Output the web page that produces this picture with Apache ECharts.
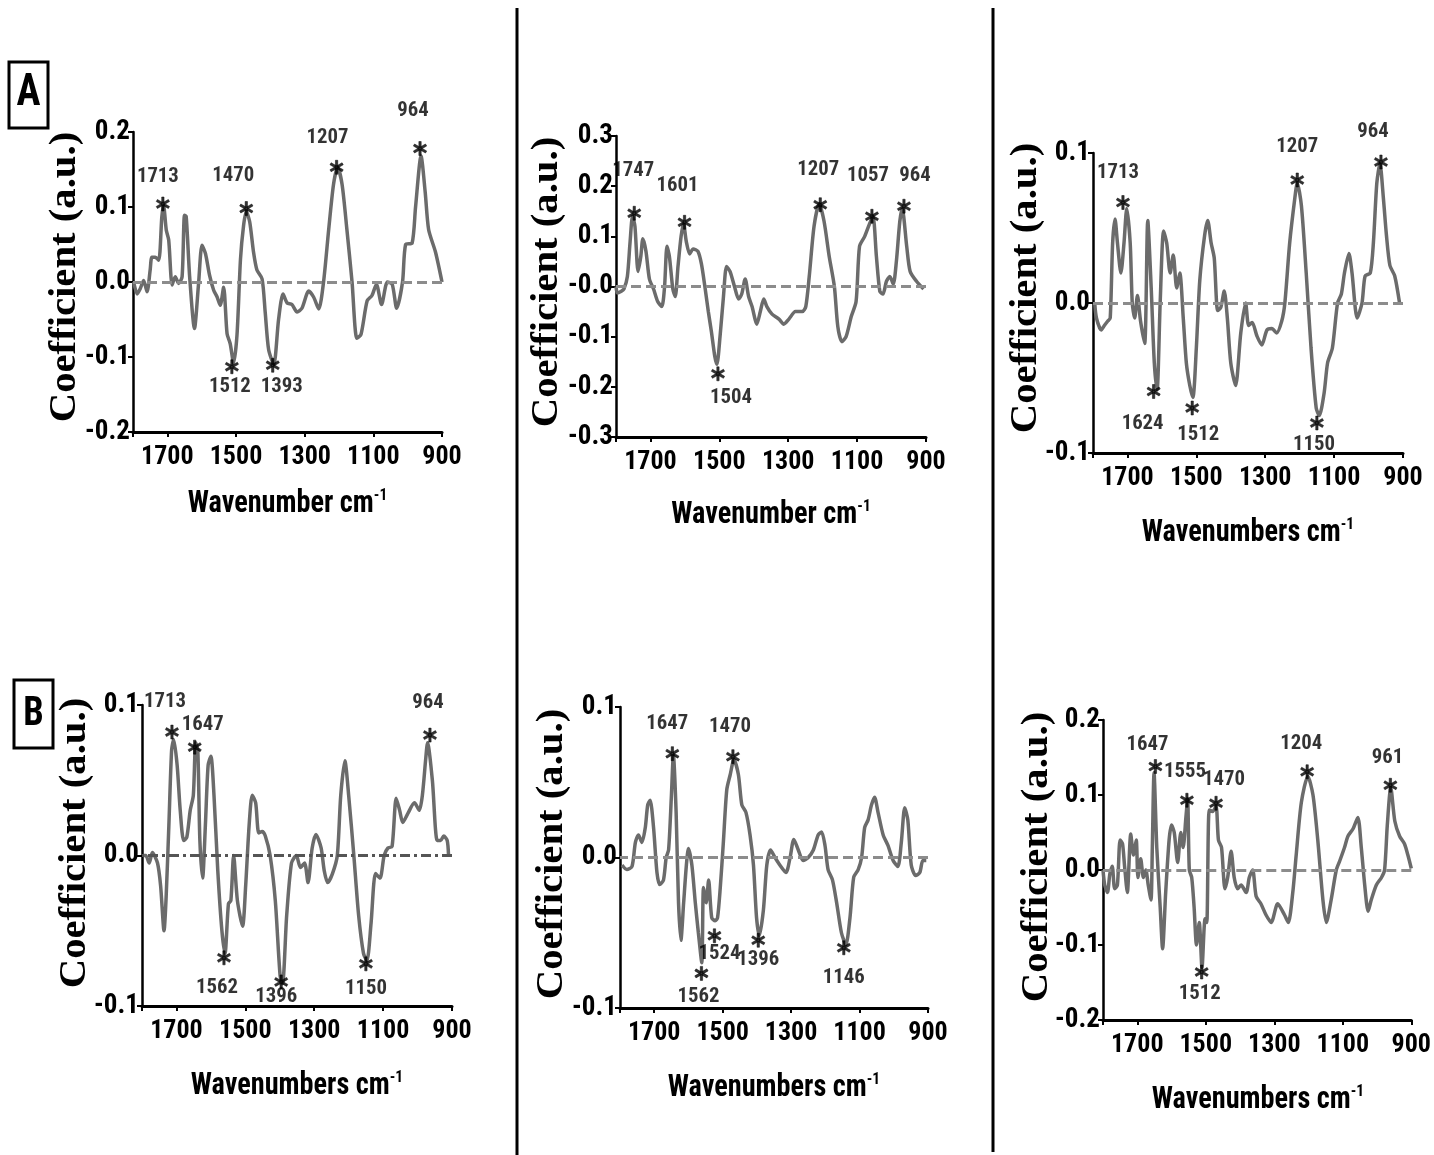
<!DOCTYPE html>
<html>
<head>
<meta charset="utf-8">
<script src="https://cdn.jsdelivr.net/npm/echarts@6/dist/echarts.min.js"></script>
<style>
  html, body { margin: 0; padding: 0; background: #fff; }
  #chart { width: 1434px; height: 1155px; }
</style>
</head>
<body>
<div id="chart"></div>
<script>
// x ticks shared by all six panels
var xTicks = [1700, 1500, 1300, 1100, 900];

var yTicksA1 = ['-0.2', '-0.1', '0.0', '0.1', '0.2'];
var yTicksA2 = ['-0.3', '-0.2', '-0.1', '-0.0', '0.1', '0.2', '0.3'];
var yTicksA3 = ['-0.1', '0.0', '0.1'];
var yTicksB1 = ['-0.1', '0.0', '0.1'];
var yTicksB2 = ['-0.1', '0.0', '0.1'];
var yTicksB3 = ['-0.2', '-0.1', '0.0', '0.1', '0.2'];

// spectra: [wavenumber, coefficient]
var specA1 = [[1798,0.0],[1788,-0.016],[1779,-0.009],[1769,0.002],[1759,-0.013],[1750,0.016],[1745,0.033],[1735,0.033],[1725,0.029],[1716,0.087],[1711,0.102],[1703,0.069],[1696,0.056],[1686,-0.004],[1677,0.007],[1667,-0.002],[1657,0.007],[1650,0.089],[1645,0.087],[1635,0.007],[1621,-0.062],[1609,-0.002],[1599,0.049],[1589,0.038],[1577,0.009],[1565,-0.011],[1555,-0.020],[1546,-0.031],[1536,-0.007],[1526,-0.069],[1517,-0.082],[1507,-0.108],[1497,-0.07],[1487,0.03],[1478,0.075],[1470,0.094],[1460,0.08],[1449,0.04],[1439,0.016],[1424,0.004],[1415,-0.04],[1405,-0.09],[1390,-0.11],[1376,-0.05],[1363,-0.016],[1351,-0.028],[1337,-0.03],[1322,-0.04],[1308,-0.035],[1288,-0.012],[1274,-0.02],[1259,-0.036],[1245,0.0],[1230,0.07],[1216,0.13],[1204,0.153],[1191,0.13],[1177,0.07],[1162,0.0],[1148,-0.075],[1136,-0.07],[1118,-0.025],[1104,-0.018],[1091,-0.003],[1076,-0.03],[1059,0.0],[1045,-0.003],[1032,-0.035],[1015,0.0],[1006,0.05],[987,0.052],[977,0.1],[961,0.168],[949,0.12],[939,0.07],[919,0.04],[900,0.0]];
var specA2 = [[1800,0.0],[1796,-0.013],[1786,-0.01],[1777,-0.005],[1767,0.02],[1759,0.09],[1752,0.14],[1745,0.12],[1736,0.03],[1728,0.06],[1722,0.095],[1713,0.07],[1703,0.015],[1691,-0.005],[1679,-0.03],[1667,-0.04],[1659,0.0],[1652,0.08],[1645,0.06],[1635,-0.005],[1628,-0.02],[1620,0.04],[1611,0.10],[1604,0.125],[1596,0.09],[1586,0.065],[1576,0.075],[1562,0.07],[1552,0.045],[1542,0.0],[1532,-0.05],[1523,-0.09],[1513,-0.14],[1507,-0.155],[1498,-0.1],[1488,-0.02],[1479,0.04],[1469,0.03],[1456,0.0],[1444,-0.025],[1435,-0.015],[1425,0.015],[1415,-0.02],[1405,-0.04],[1391,-0.075],[1381,-0.05],[1371,-0.025],[1362,-0.04],[1347,-0.055],[1327,-0.065],[1313,-0.075],[1298,-0.065],[1279,-0.05],[1259,-0.05],[1249,-0.04],[1239,0.02],[1225,0.12],[1210,0.165],[1196,0.13],[1181,0.06],[1166,0.0],[1156,-0.08],[1144,-0.11],[1132,-0.1],[1117,-0.06],[1103,-0.03],[1093,0.08],[1078,0.1],[1064,0.125],[1054,0.14],[1044,0.06],[1034,-0.01],[1025,-0.015],[1015,0.01],[1005,0.02],[995,0.005],[986,0.05],[976,0.13],[969,0.155],[956,0.08],[946,0.03],[927,0.01],[907,-0.005]];
var specA3 = [[1795,0.0],[1790,-0.01],[1776,-0.018],[1767,-0.015],[1757,-0.012],[1750,-0.01],[1743,0.04],[1736,0.056],[1729,0.04],[1719,0.02],[1710,0.04],[1702,0.063],[1692,0.04],[1686,0.0],[1679,-0.01],[1671,0.005],[1662,-0.012],[1650,-0.027],[1641,0.055],[1631,0.01],[1622,-0.04],[1614,-0.058],[1605,0.0],[1595,0.048],[1586,0.04],[1576,0.02],[1567,0.032],[1557,0.01],[1548,0.02],[1538,-0.01],[1529,-0.04],[1519,-0.055],[1510,-0.063],[1500,-0.03],[1490,0.015],[1476,0.045],[1467,0.055],[1457,0.04],[1448,0.03],[1438,-0.005],[1429,-0.003],[1419,0.008],[1410,-0.01],[1400,-0.04],[1386,-0.055],[1371,-0.02],[1357,0.0],[1348,-0.015],[1338,-0.013],[1324,-0.022],[1310,-0.028],[1295,-0.018],[1281,-0.017],[1267,-0.02],[1252,-0.012],[1243,0.0],[1229,0.04],[1214,0.07],[1207,0.08],[1195,0.065],[1181,0.02],[1167,-0.03],[1152,-0.07],[1143,-0.075],[1129,-0.06],[1119,-0.04],[1105,-0.03],[1090,0.0],[1079,0.006],[1070,0.02],[1057,0.033],[1048,0.02],[1033,-0.01],[1019,0.0],[1010,0.018],[995,0.02],[986,0.04],[976,0.08],[967,0.093],[957,0.07],[948,0.045],[938,0.025],[924,0.018],[910,0.0]];
var specB1 = [[1795,0.0],[1789,0.0],[1779,-0.005],[1770,0.002],[1755,-0.005],[1746,-0.02],[1736,-0.05],[1730,-0.028],[1722,0.02],[1714,0.07],[1708,0.077],[1698,0.06],[1689,0.03],[1679,0.01],[1670,0.012],[1660,0.03],[1651,0.04],[1644,0.075],[1638,0.07],[1632,0.01],[1624,-0.015],[1616,0.02],[1608,0.06],[1600,0.066],[1591,0.04],[1580,-0.01],[1568,-0.05],[1559,-0.065],[1549,-0.032],[1542,-0.03],[1534,0.0],[1523,-0.03],[1508,-0.047],[1499,-0.02],[1489,0.02],[1480,0.04],[1470,0.035],[1461,0.015],[1451,0.016],[1442,0.013],[1428,0.0],[1413,-0.03],[1399,-0.08],[1392,-0.085],[1380,-0.04],[1366,-0.005],[1352,0.0],[1340,-0.008],[1328,-0.005],[1318,-0.018],[1306,0.005],[1295,0.014],[1280,0.005],[1271,-0.01],[1261,-0.018],[1247,-0.012],[1233,0.0],[1223,0.04],[1211,0.063],[1200,0.04],[1185,0.0],[1171,-0.04],[1157,-0.065],[1147,-0.07],[1135,-0.045],[1122,-0.012],[1109,-0.015],[1097,0.0],[1086,0.005],[1074,0.006],[1062,0.038],[1052,0.03],[1043,0.022],[1028,0.028],[1009,0.035],[995,0.03],[986,0.04],[976,0.065],[971,0.075],[957,0.05],[943,0.01],[933,0.01],[924,0.013],[914,0.01],[910,0.0]];
var specB2 = [[1794,-0.005],[1780,-0.008],[1765,-0.006],[1755,0.01],[1746,0.015],[1736,0.01],[1726,0.02],[1719,0.035],[1712,0.038],[1702,0.02],[1692,-0.01],[1684,-0.018],[1673,-0.015],[1665,0.0],[1658,0.005],[1650,0.04],[1644,0.068],[1636,0.03],[1629,-0.03],[1622,-0.055],[1614,-0.03],[1606,-0.005],[1600,0.006],[1590,-0.005],[1580,-0.03],[1571,-0.05],[1561,-0.07],[1556,-0.02],[1548,-0.03],[1541,-0.015],[1532,-0.04],[1522,-0.042],[1515,-0.04],[1507,-0.02],[1498,0.01],[1488,0.045],[1478,0.055],[1467,0.065],[1454,0.055],[1444,0.035],[1432,0.03],[1420,0.015],[1410,-0.005],[1401,-0.04],[1393,-0.052],[1381,-0.035],[1371,-0.005],[1360,0.005],[1347,0.0],[1333,-0.005],[1315,-0.01],[1303,0.0],[1292,0.012],[1279,0.005],[1265,-0.002],[1250,0.0],[1235,0.005],[1221,0.015],[1211,0.017],[1201,0.008],[1192,-0.008],[1179,-0.015],[1167,-0.03],[1153,-0.05],[1140,-0.058],[1128,-0.04],[1117,-0.013],[1104,-0.008],[1094,0.0],[1085,0.02],[1075,0.025],[1065,0.035],[1056,0.04],[1046,0.03],[1031,0.015],[1017,0.008],[1002,-0.002],[988,-0.006],[978,0.01],[968,0.033],[959,0.025],[949,-0.005],[936,-0.012],[924,-0.01],[915,-0.002],[905,-0.002]];
var specB3 = [[1800,0.0],[1795,-0.02],[1787,-0.03],[1780,-0.005],[1773,0.005],[1766,-0.025],[1758,-0.02],[1750,0.04],[1743,0.035],[1737,0.005],[1729,-0.03],[1719,0.048],[1711,0.02],[1703,0.04],[1698,-0.01],[1690,0.015],[1682,-0.01],[1675,0.0],[1668,-0.02],[1660,-0.04],[1656,0.03],[1651,0.13],[1643,0.03],[1633,-0.05],[1626,-0.105],[1617,-0.03],[1607,0.04],[1600,0.06],[1592,0.05],[1582,0.01],[1573,0.05],[1566,0.03],[1558,0.07],[1553,0.095],[1548,0.0],[1541,-0.01],[1534,-0.05],[1527,-0.1],[1519,-0.07],[1511,-0.13],[1502,-0.065],[1497,-0.07],[1490,0.08],[1480,0.078],[1470,0.085],[1463,0.04],[1454,0.03],[1444,-0.025],[1436,-0.01],[1426,0.025],[1417,-0.01],[1407,-0.025],[1397,-0.02],[1382,-0.03],[1373,-0.01],[1363,0.0],[1353,-0.035],[1339,-0.045],[1324,-0.06],[1309,-0.07],[1290,-0.045],[1270,-0.06],[1259,-0.07],[1246,-0.03],[1236,0.02],[1221,0.09],[1202,0.125],[1187,0.1],[1173,0.04],[1158,-0.04],[1148,-0.07],[1134,-0.04],[1119,0.0],[1109,0.012],[1095,0.03],[1085,0.045],[1070,0.055],[1056,0.07],[1046,0.03],[1036,-0.02],[1026,-0.055],[1017,-0.04],[1002,-0.02],[987,-0.01],[978,0.0],[970,0.06],[960,0.11],[948,0.065],[934,0.045],[920,0.035],[910,0.02],[900,0.002]];

// marked peaks: [wavenumber, coefficient]
var peaksA1 = [[1713,0.104],[1512,-0.113],[1470,0.098],[1393,-0.111],[1207,0.153],[964,0.178]];
var peaksA2 = [[1747,0.146],[1601,0.128],[1504,-0.174],[1207,0.163],[1057,0.14],[964,0.16]];
var peaksA3 = [[1713,0.067],[1624,-0.059],[1512,-0.07],[1207,0.082],[1150,-0.08],[964,0.094]];
var peaksB1 = [[1713,0.082],[1647,0.072],[1562,-0.068],[1396,-0.084],[1150,-0.072],[964,0.08]];
var peaksB2 = [[1647,0.069],[1562,-0.077],[1524,-0.052],[1470,0.067],[1396,-0.055],[1146,-0.06]];
var peaksB3 = [[1647,0.138],[1555,0.093],[1512,-0.136],[1470,0.089],[1204,0.131],[961,0.113]];

// where each peak number sits relative to its asterisk (px)
var labelShift = {
    A1: [[-5,-27],[-2,20],[-13,-33],[9,22],[-9,-29],[-7,-38]],
    A2: [[-1,-42],[-7,-36],[13,24],[-2,-35],[-4,-40],[11,-30]],
    A3: [[-5,-30],[-11,32],[6,27],[0,-33],[-3,22],[-8,-30]],
    B1: [[-7,-30],[8,-22],[-7,30],[-5,15],[0,25],[-2,-32]],
    B2: [[-5,-30],[-3,23],[5,18],[-3,-30],[0,20],[0,30]],
    B3: [[-8,-22],[-2,-28],[-2,22],[8,-23],[-6,-28],[-3,-27]]
};

// pick a (preferably condensed) bold sans that is really installed
var ctx = document.createElement('canvas').getContext('2d');
function textW(font, s) { ctx.font = font; return ctx.measureText(s).width; }
function installed(name) {
    var s = '1700 Wavenumber cm';
    return textW('bold 40px "' + name + '", monospace', s) !== textW('bold 40px monospace', s);
}
var FAM = ['Roboto Condensed', 'Liberation Sans Narrow', 'Arial Narrow', 'Liberation Sans', 'Arial']
    .filter(installed)[0] || 'sans-serif';
var SANS = '"' + FAM + '", sans-serif';
var SERIF = '"Liberation Serif", "DejaVu Serif", serif';
function fitSize(s, width, maxSize) {
    return Math.min(maxSize, 40 * width / textW('bold 40px ' + SANS, s));
}
var xTickSize = fitSize('1700', 54, 26);
var yTickSize = fitSize('0.0', 38, 27);
var peakSize = fitSize('1713', 42, 21);
var titleScale = Math.min(1, 186 / textW('bold 31px ' + SANS, 'Wavenumber cm'));

var STAR = 'path://M4.696,-3.866L5.696,-2.134L-4.696,3.866L-5.696,2.134Z' +
           'M5.696,2.134L4.696,3.866L-5.696,-2.134L-4.696,-3.866Z' +
           'M-1,-6L1,-6L1,6L-1,6Z';

var panels = [
    {id: 'A1', left: 133,  top: 132, width: 309, height: 300, yMin: -0.2, yMax: 0.2, yTicks: yTicksA1, spec: specA1, peaks: peaksA1, xTitle: 'Wavenumber cm',  titleDy: 72, coef: [65, 277]},
    {id: 'A2', left: 616,  top: 136, width: 310, height: 301, yMin: -0.3, yMax: 0.3, yTicks: yTicksA2, spec: specA2, peaks: peaksA2, xTitle: 'Wavenumber cm',  titleDy: 78, coef: [547, 282]},
    {id: 'A3', left: 1093, top: 153, width: 310, height: 300, yMin: -0.1, yMax: 0.1, yTicks: yTicksA3, spec: specA3, peaks: peaksA3, xTitle: 'Wavenumbers cm', titleDy: 80, coef: [1026, 288]},
    {id: 'B1', left: 142,  top: 705, width: 310, height: 301, yMin: -0.1, yMax: 0.1, yTicks: yTicksB1, spec: specB1, peaks: peaksB1, xTitle: 'Wavenumbers cm', titleDy: 80, coef: [75, 843], dashDot: true},
    {id: 'B2', left: 620,  top: 707, width: 308, height: 301, yMin: -0.1, yMax: 0.1, yTicks: yTicksB2, spec: specB2, peaks: peaksB2, xTitle: 'Wavenumbers cm', titleDy: 80, coef: [552, 854]},
    {id: 'B3', left: 1103, top: 720, width: 310, height: 300, yMin: -0.2, yMax: 0.2, yTicks: yTicksB3, spec: specB3, peaks: peaksB3, xTitle: 'Wavenumbers cm', titleDy: 80, coef: [1037, 857]}
];

var grids = [], xAxes = [], yAxes = [], series = [];
var graphics = [];

panels.forEach(function (p, i) {
    grids.push({left: p.left, top: p.top, width: p.width, height: p.height, containLabel: false});

    xAxes.push({
        type: 'value', gridIndex: i, min: 900, max: 1800, interval: 200, inverse: true,
        splitLine: {show: false},
        axisLine: {show: true, onZero: false, lineStyle: {color: '#000', width: 3}},
        axisTick: {show: true, length: 5, lineStyle: {color: '#000', width: 2}},
        axisLabel: {
            margin: 12, color: '#000', fontSize: xTickSize, fontWeight: 'bold', fontFamily: SANS,
            formatter: function (v) { return xTicks.indexOf(v) >= 0 ? String(v) : ''; }
        }
    });

    yAxes.push({
        type: 'value', gridIndex: i, min: p.yMin, max: p.yMax, interval: 0.1,
        splitLine: {show: false},
        axisLine: {show: true, lineStyle: {color: '#000', width: 2.5}},
        axisTick: {show: true, length: 5, lineStyle: {color: '#000', width: 2}},
        axisLabel: {
            margin: 3, color: '#000', fontSize: yTickSize, fontWeight: 'bold', fontFamily: SANS,
            formatter: (function (labels) {
                return function (v, idx) { return labels[idx] !== undefined ? labels[idx] : ''; };
            })(p.yTicks)
        }
    });

    series.push({
        type: 'line', xAxisIndex: i, yAxisIndex: i,
        data: p.spec, showSymbol: false, smooth: 0.25,
        lineStyle: {color: '#6b6b6b', width: 3.5},
        z: 3,
        markLine: {
            silent: true, symbol: 'none', label: {show: false},
            lineStyle: p.dashDot ? {color: '#555', width: 3, type: [10, 4, 3, 4]}
                                 : {color: '#8c8c8c', width: 3, type: [10, 5]},
            data: [{yAxis: 0}]
        }
    });

    var shifts = labelShift[p.id];
    series.push({
        type: 'scatter', xAxisIndex: i, yAxisIndex: i,
        symbol: STAR, symbolSize: 14, symbolKeepAspect: true,
        itemStyle: {color: '#000', borderColor: '#000', borderWidth: 0.6},
        z: 5,
        label: {
            show: true, position: 'inside', color: '#000', fontSize: peakSize, fontWeight: 'bold', fontFamily: SANS,
            formatter: function (q) { return String(q.value[0]); }
        },
        data: p.peaks.map(function (pk, k) {
            return {value: pk, label: {offset: shifts[k]}};
        })
    });

    // axis titles (condensed to match the figure)
    graphics.push({
        type: 'text', x: p.coef[0], y: p.coef[1], rotation: Math.PI / 2, scaleX: 1.1,
        style: {
            text: 'Coefficient (a.u.)', font: 'bold 37px ' + SERIF, fill: '#000',
            align: 'center', verticalAlign: 'middle', textAlign: 'center', textVerticalAlign: 'middle'
        }
    });
    graphics.push({
        type: 'text', x: p.left + p.width / 2, y: p.top + p.height + p.titleDy, scaleX: titleScale,
        style: {
            text: '{t|' + p.xTitle + '}{s|-1}', fill: '#000',
            align: 'center', verticalAlign: 'middle', textAlign: 'center', textVerticalAlign: 'middle',
            rich: {
                t: {fontSize: 31, fontWeight: 'bold', fontFamily: SANS, lineHeight: 34},
                s: {fontSize: 17, fontWeight: 'bold', fontFamily: SANS, lineHeight: 16, verticalAlign: 'top'}
            }
        }
    });
});

// panel row letters and column separators
graphics.push(
    {type: 'rect', shape: {x: 9, y: 62, width: 39, height: 66}, style: {fill: 'none', stroke: '#000', lineWidth: 3}},
    {type: 'text', x: 28.5, y: 94, scaleX: titleScale, style: {text: 'A', font: 'bold 44px ' + SANS, fill: '#000', align: 'center', verticalAlign: 'middle', textAlign: 'center', textVerticalAlign: 'middle'}},
    {type: 'rect', shape: {x: 14, y: 680, width: 39, height: 68}, style: {fill: 'none', stroke: '#000', lineWidth: 3}},
    {type: 'text', x: 33.5, y: 715, scaleX: titleScale, style: {text: 'B', font: 'bold 40px ' + SANS, fill: '#000', align: 'center', verticalAlign: 'middle', textAlign: 'center', textVerticalAlign: 'middle'}},
    {type: 'line', shape: {x1: 517, y1: 8, x2: 517, y2: 1155}, style: {stroke: '#000', lineWidth: 3}},
    {type: 'line', shape: {x1: 993, y1: 8, x2: 993, y2: 1152}, style: {stroke: '#000', lineWidth: 3}}
);

var chart = echarts.init(document.getElementById('chart'), null, {renderer: 'canvas'});
chart.setOption({
    backgroundColor: '#fff',
    animation: false,
    grid: grids,
    xAxis: xAxes,
    yAxis: yAxes,
    series: series,
    graphic: graphics
});
</script>
</body>
</html>
